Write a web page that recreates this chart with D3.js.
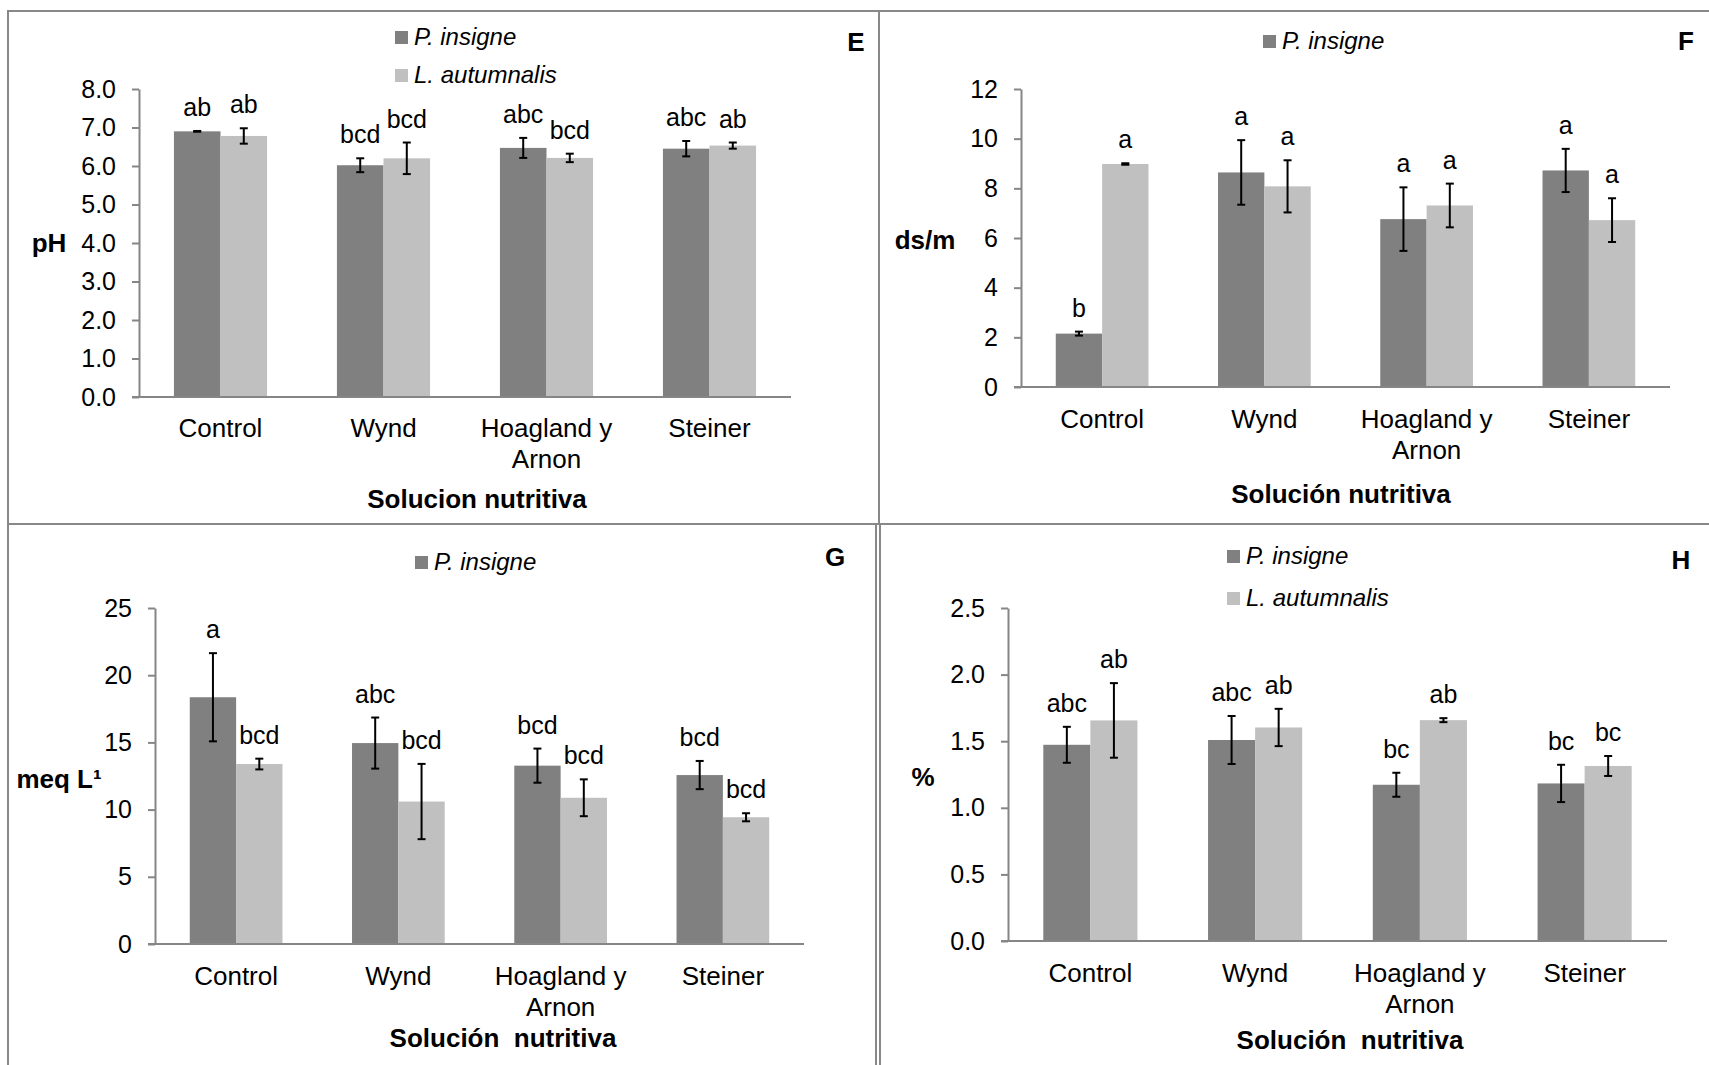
<!DOCTYPE html>
<html>
<head>
<meta charset="utf-8">
<script src="https://cdn.jsdelivr.net/npm/d3@7"></script>
<style>
    body { margin: 0; background: #fff; }
    svg { display: block; font-family: "Liberation Sans", Arial, sans-serif; }
</style>
</head>
<body>
<svg id="chart" width="1709" height="1065"></svg>
<script>
// categories + series
const categories = ["Control", "Wynd", "Hoagland y\nArnon", "Steiner"];
const seriesNames = ["P. insigne", "L. autumnalis"];
const seriesColors = ["#808080", "#c0c0c0"];

// E: pH
const phInsigne = [6.90, 6.02, 6.47, 6.45];
const phInsigneErr = [0.01, 0.18, 0.26, 0.20];
const phAutumnalis = [6.78, 6.20, 6.21, 6.53];
const phAutumnalisErr = [0.20, 0.41, 0.11, 0.08];
const phInsigneLetters = ["ab", "bcd", "abc", "abc"];
const phAutumnalisLetters = ["ab", "bcd", "bcd", "ab"];
const phTicks = [0, 1, 2, 3, 4, 5, 6, 7, 8];

// F: ds/m
const ceInsigne = [2.15, 8.64, 6.76, 8.72];
const ceInsigneErr = [0.08, 1.30, 1.28, 0.87];
const ceAutumnalis = [8.98, 8.08, 7.31, 6.72];
const ceAutumnalisErr = [0.03, 1.05, 0.88, 0.88];
const ceInsigneLetters = ["b", "a", "a", "a"];
const ceAutumnalisLetters = ["a", "a", "a", "a"];
const ceTicks = [0, 2, 4, 6, 8, 10, 12];

// G: meq L
const meqInsigne = [18.36, 14.95, 13.27, 12.57];
const meqInsigneErr = [3.28, 1.90, 1.27, 1.05];
const meqAutumnalis = [13.39, 10.60, 10.88, 9.43];
const meqAutumnalisErr = [0.40, 2.80, 1.37, 0.30];
const meqInsigneLetters = ["a", "abc", "bcd", "bcd"];
const meqAutumnalisLetters = ["bcd", "bcd", "bcd", "bcd"];
const meqTicks = [0, 5, 10, 15, 20, 25];

// H: %
const pctInsigne = [1.473, 1.509, 1.173, 1.183];
const pctInsigneErr = [0.135, 0.18, 0.09, 0.14];
const pctAutumnalis = [1.656, 1.603, 1.658, 1.314];
const pctAutumnalisErr = [0.28, 0.14, 0.015, 0.075];
const pctInsigneLetters = ["abc", "abc", "bc", "bc"];
const pctAutumnalisLetters = ["ab", "ab", "ab", "bc"];
const pctTicks = [0, 0.5, 1.0, 1.5, 2.0, 2.5];

const svg = d3.select("#chart");
const borderColor = "#888888", axisColor = "#868686";

// panel frames
const frames = [
    {x: 8, y: 11, w: 871, h: 513},
    {x: 879, y: 11, w: 840, h: 513},
    {x: 8, y: 524, w: 868, h: 560},
    {x: 880, y: 524, w: 840, h: 560}
];
svg.selectAll("rect.frame")
    .data(frames)
    .join("rect")
    .attr("class", "frame")
    .attr("x", d => d.x).attr("y", d => d.y)
    .attr("width", d => d.w).attr("height", d => d.h)
    .attr("fill", "none")
    .attr("stroke", borderColor)
    .attr("stroke-width", 2);

const panels = [
    {
        tag: "E", x0: 139, x1: 791, yTop: 89, yBot: 397, domain: [0, 8], ticks: phTicks, fmt: d3.format(".1f"),
        vals: [phInsigne, phAutumnalis], errs: [phInsigneErr, phAutumnalisErr],
        letters: [phInsigneLetters, phAutumnalisLetters],
        yLabel: "pH", yLabelPos: [49, 243], legendX: 395, legendY: [37, 75],
        tagPos: [856, 42], title: "Solucion nutritiva", titlePos: [477, 508], catBase: 437
    },
    {
        tag: "F", x0: 1021, x1: 1670, yTop: 89, yBot: 387, domain: [0, 12], ticks: ceTicks, fmt: d3.format("d"),
        vals: [ceInsigne, ceAutumnalis], errs: [ceInsigneErr, ceAutumnalisErr],
        letters: [ceInsigneLetters, ceAutumnalisLetters],
        yLabel: "ds/m", yLabelPos: [925, 240], legendX: 1263, legendY: [41],
        tagPos: [1686, 41], title: "Solución nutritiva", titlePos: [1341, 503], catBase: 428
    },
    {
        tag: "G", x0: 155, x1: 804, yTop: 608, yBot: 944, domain: [0, 25], ticks: meqTicks, fmt: d3.format("d"),
        vals: [meqInsigne, meqAutumnalis], errs: [meqInsigneErr, meqAutumnalisErr],
        letters: [meqInsigneLetters, meqAutumnalisLetters],
        yLabel: "meq L¹", yLabelPos: [59, 779], legendX: 415, legendY: [562],
        tagPos: [835, 557], title: "Solución  nutritiva", titlePos: [503, 1047], catBase: 985
    },
    {
        tag: "H", x0: 1008, x1: 1667, yTop: 608, yBot: 941, domain: [0, 2.5], ticks: pctTicks, fmt: d3.format(".1f"),
        vals: [pctInsigne, pctAutumnalis], errs: [pctInsigneErr, pctAutumnalisErr],
        letters: [pctInsigneLetters, pctAutumnalisLetters],
        yLabel: "%", yLabelPos: [923, 777], legendX: 1227, legendY: [556, 598],
        tagPos: [1681, 560], title: "Solución  nutritiva", titlePos: [1350, 1049], catBase: 982
    }
];

panels.forEach(p => drawPanel(p));

function drawPanel(p) {
    const g = svg.append("g");

    const x = d3.scaleBand().domain(categories).range([p.x0, p.x1]).paddingInner(0).paddingOuter(0);
    const xs = d3.scaleBand().domain(seriesNames).range([0, x.bandwidth()]).paddingInner(0).paddingOuter(0.75);
    const y = d3.scaleLinear().domain(p.domain).range([p.yBot, p.yTop]);

    // y axis
    g.append("g")
        .attr("transform", `translate(${p.x0},0)`)
        .call(d3.axisLeft(y).tickValues(p.ticks).tickFormat(p.fmt).tickSizeInner(7).tickSizeOuter(0).tickPadding(16))
        .call(a => a.select(".domain").attr("stroke", axisColor).attr("stroke-width", 2))
        .call(a => a.selectAll(".tick line").attr("stroke", axisColor).attr("stroke-width", 2))
        .call(a => a.selectAll(".tick text").attr("fill", "#000").style("font-size", "25px")
            .attr("font-family", "Liberation Sans, Arial, sans-serif"));

    // bars
    seriesNames.forEach((s, si) => {
        const rows = categories.map((c, i) => ({c, v: p.vals[si][i], e: p.errs[si][i], l: p.letters[si][i]}));
        g.append("g").selectAll("rect")
            .data(rows)
            .join("rect")
            .attr("x", d => x(d.c) + xs(s))
            .attr("y", d => y(d.v))
            .attr("width", xs.bandwidth())
            .attr("height", d => y(0) - y(d.v))
            .attr("fill", seriesColors[si]);

        // error bars
        const eg = g.append("g").attr("stroke", "#000").attr("stroke-width", 2);
        rows.forEach(d => {
            const cx = x(d.c) + xs(s) + xs.bandwidth() / 2;
            eg.append("line").attr("x1", cx).attr("x2", cx).attr("y1", y(d.v + d.e)).attr("y2", y(d.v - d.e));
            eg.append("line").attr("x1", cx - 4).attr("x2", cx + 4).attr("y1", y(d.v + d.e)).attr("y2", y(d.v + d.e));
            eg.append("line").attr("x1", cx - 4).attr("x2", cx + 4).attr("y1", y(d.v - d.e)).attr("y2", y(d.v - d.e));
        });

        // significance letters
        g.append("g").selectAll("text")
            .data(rows)
            .join("text")
            .attr("x", d => x(d.c) + xs(s) + xs.bandwidth() / 2)
            .attr("y", d => y(d.v + d.e) - 15)
            .attr("text-anchor", "middle")
            .style("font-size", "25px")
            .text(d => d.l);
    });

    // x axis line (extends to the 0 tick)
    g.append("line")
        .attr("x1", p.x0 - 7).attr("x2", p.x1)
        .attr("y1", y(0)).attr("y2", y(0))
        .attr("stroke", axisColor).attr("stroke-width", 2);

    // category labels
    categories.forEach(c => {
        const t = g.append("text")
            .attr("x", x(c) + x.bandwidth() / 2)
            .attr("y", p.catBase)
            .attr("text-anchor", "middle")
            .style("font-size", "26px");
        c.split("\n").forEach((line, i) => {
            t.append("tspan").attr("x", x(c) + x.bandwidth() / 2).attr("dy", i === 0 ? 0 : 31).text(line);
        });
    });

    // y label
    g.append("text")
        .attr("x", p.yLabelPos[0]).attr("y", p.yLabelPos[1] + 9)
        .attr("text-anchor", "middle")
        .style("font-size", "26px").style("font-weight", "bold")
        .text(p.yLabel);

    // x title
    g.append("text")
        .attr("x", p.titlePos[0]).attr("y", p.titlePos[1])
        .attr("text-anchor", "middle")
        .style("font-size", "26px").style("font-weight", "bold")
        .style("white-space", "pre")
        .text(p.title);

    // panel tag
    g.append("text")
        .attr("x", p.tagPos[0]).attr("y", p.tagPos[1] + 9)
        .attr("text-anchor", "middle")
        .style("font-size", "26px").style("font-weight", "bold")
        .text(p.tag);

    // legend
    const lg = g.append("g").selectAll("g")
        .data(p.legendY.map((ly, i) => ({ly, i})))
        .join("g")
        .attr("transform", d => `translate(${p.legendX},${d.ly})`);
    lg.append("rect").attr("x", 0).attr("y", -6).attr("width", 13).attr("height", 13)
        .attr("fill", d => seriesColors[d.i]);
    lg.append("text").attr("x", 19).attr("y", 8)
        .style("font-size", "24px").style("font-style", "italic")
        .text(d => seriesNames[d.i]);
}
</script>
</body>
</html>
